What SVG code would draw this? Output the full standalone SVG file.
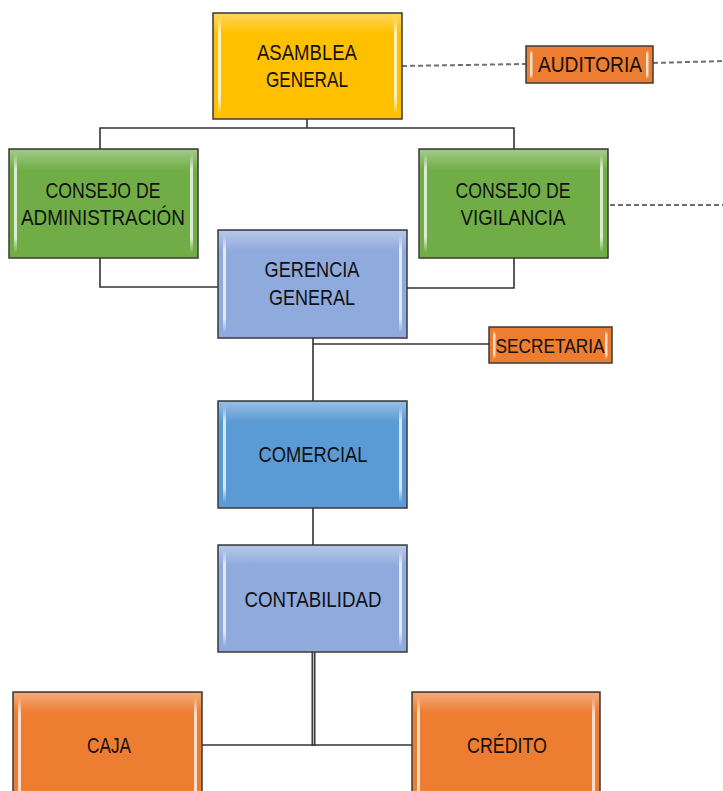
<svg xmlns="http://www.w3.org/2000/svg" width="723" height="791" viewBox="0 0 723 791">
  <defs>
    <linearGradient id="shine" x1="0" y1="0" x2="0" y2="1">
      <stop offset="0" stop-color="#ffffff" stop-opacity="0"/>
      <stop offset="0.15" stop-color="#ffffff" stop-opacity="0.75"/>
      <stop offset="0.85" stop-color="#ffffff" stop-opacity="0.75"/>
      <stop offset="1" stop-color="#ffffff" stop-opacity="0"/>
    </linearGradient>
    <linearGradient id="topshine" x1="0" y1="0" x2="0" y2="1">
      <stop offset="0" stop-color="#ffffff" stop-opacity="0.35"/>
      <stop offset="1" stop-color="#ffffff" stop-opacity="0"/>
    </linearGradient>
  </defs>
  <style>
    .box { stroke: #3a3a3a; stroke-width: 1.5; }
    .yellow { fill: #FFC000; }
    .green { fill: #70AD47; }
    .lav { fill: #8FAADC; }
    .blue { fill: #5B9BD5; }
    .orange { fill: #ED7D31; }
    .edge { fill: url(#shine); }
    .top { fill: url(#topshine); }
    .lbl { font-family: "Liberation Sans", Arial, sans-serif; font-size: 22px; fill: #111; text-anchor: middle; }
    .small { font-size: 21px; }
    .link { stroke: #333; stroke-width: 1.6; fill: none; }
    .dash { stroke: #707070; stroke-width: 2; stroke-dasharray: 5 3; fill: none; }
  </style>

  <!-- connectors -->
  <g id="connectors">
    <line class="link" x1="307" y1="119" x2="307" y2="128"/>
    <polyline class="link" points="100,149 100,128 514,128 514,149"/>
    <polyline class="link" points="100,258 100,287 218,287"/>
    <polyline class="link" points="514,258 514,288 407,288"/>
    <line class="link" x1="313" y1="338" x2="313" y2="401"/>
    <line class="link" x1="313" y1="344" x2="489" y2="344"/>
    <line class="link" x1="313" y1="508" x2="313" y2="545" stroke="#666"/>
    <line x1="313.5" y1="652" x2="313.5" y2="746" stroke="#333" stroke-width="4"/>
    <line x1="313.5" y1="652" x2="313.5" y2="746" stroke="#bbb" stroke-width="1.2"/>
    <line class="link" x1="202" y1="745" x2="412" y2="745"/>
    <line class="dash" x1="402" y1="66" x2="526" y2="64"/>
    <line class="dash" x1="653" y1="63" x2="723" y2="61"/>
    <line class="dash" x1="610" y1="205" x2="723" y2="205"/>
  </g>

  <g id="asamblea">
    <rect class="box yellow" x="213" y="13" width="189" height="106"/>
    <rect class="top" x="214" y="14" width="187" height="20"/>
    <rect class="edge" x="218" y="18" width="3" height="96"/>
    <rect class="edge" x="394" y="18" width="3" height="96"/>
    <text class="lbl" x="307" y="60" textLength="100" lengthAdjust="spacingAndGlyphs">ASAMBLEA</text>
    <text class="lbl" x="307" y="87" textLength="82" lengthAdjust="spacingAndGlyphs">GENERAL</text>
  </g>

  <g id="auditoria">
    <rect class="box orange" x="526" y="46" width="127" height="37"/>
    <rect class="edge" x="530" y="50" width="2.5" height="29"/>
    <rect class="edge" x="646" y="50" width="2.5" height="29"/>
    <text class="lbl" x="590" y="72" textLength="104" lengthAdjust="spacingAndGlyphs">AUDITORIA</text>
  </g>

  <g id="consejo-admin">
    <rect class="box green" x="9" y="149" width="189" height="109"/>
    <rect class="top" x="10" y="150" width="187" height="20"/>
    <rect class="edge" x="14" y="154" width="3" height="99"/>
    <rect class="edge" x="190" y="154" width="3" height="99"/>
    <text class="lbl" x="103" y="198" textLength="115" lengthAdjust="spacingAndGlyphs">CONSEJO DE</text>
    <text class="lbl" x="103" y="225" textLength="164" lengthAdjust="spacingAndGlyphs">ADMINISTRACIÓN</text>
  </g>

  <g id="consejo-vigilancia">
    <rect class="box green" x="419" y="149" width="189" height="109"/>
    <rect class="top" x="420" y="150" width="187" height="20"/>
    <rect class="edge" x="424" y="154" width="3" height="99"/>
    <rect class="edge" x="600" y="154" width="3" height="99"/>
    <text class="lbl" x="513" y="198" textLength="115" lengthAdjust="spacingAndGlyphs">CONSEJO DE</text>
    <text class="lbl" x="513" y="225" textLength="105" lengthAdjust="spacingAndGlyphs">VIGILANCIA</text>
  </g>

  <g id="gerencia">
    <rect class="box lav" x="218" y="230" width="189" height="108"/>
    <rect class="top" x="219" y="231" width="187" height="20"/>
    <rect class="edge" x="223" y="235" width="3" height="98"/>
    <rect class="edge" x="399" y="235" width="3" height="98"/>
    <text class="lbl" x="312" y="277" textLength="95" lengthAdjust="spacingAndGlyphs">GERENCIA</text>
    <text class="lbl" x="312" y="305" textLength="86" lengthAdjust="spacingAndGlyphs">GENERAL</text>
  </g>

  <g id="secretaria">
    <rect class="box orange" x="489" y="327" width="123" height="36"/>
    <rect class="edge" x="493" y="331" width="2.5" height="28"/>
    <rect class="edge" x="605" y="331" width="2.5" height="28"/>
    <text class="lbl small" x="550" y="353" textLength="109" lengthAdjust="spacingAndGlyphs">SECRETARIA</text>
  </g>

  <g id="comercial">
    <rect class="box blue" x="218" y="401" width="189" height="107"/>
    <rect class="top" x="219" y="402" width="187" height="20"/>
    <rect class="edge" x="223" y="406" width="3" height="97"/>
    <rect class="edge" x="399" y="406" width="3" height="97"/>
    <text class="lbl" x="313" y="462" textLength="109" lengthAdjust="spacingAndGlyphs">COMERCIAL</text>
  </g>

  <g id="contabilidad">
    <rect class="box lav" x="218" y="545" width="189" height="107"/>
    <rect class="top" x="219" y="546" width="187" height="20"/>
    <rect class="edge" x="223" y="550" width="3" height="97"/>
    <rect class="edge" x="399" y="550" width="3" height="97"/>
    <text class="lbl" x="313" y="607" textLength="137" lengthAdjust="spacingAndGlyphs">CONTABILIDAD</text>
  </g>

  <g id="caja">
    <rect class="box orange" x="13" y="692" width="189" height="110"/>
    <rect class="top" x="14" y="693" width="187" height="20"/>
    <rect class="edge" x="18" y="697" width="3" height="110"/>
    <rect class="edge" x="194" y="697" width="3" height="110"/>
    <text class="lbl" x="109" y="753" textLength="44" lengthAdjust="spacingAndGlyphs">CAJA</text>
  </g>

  <g id="credito">
    <rect class="box orange" x="412" y="692" width="188" height="110"/>
    <rect class="top" x="413" y="693" width="186" height="20"/>
    <rect class="edge" x="417" y="697" width="3" height="110"/>
    <rect class="edge" x="592" y="697" width="3" height="110"/>
    <text class="lbl" x="507" y="753" textLength="80" lengthAdjust="spacingAndGlyphs">CRÉDITO</text>
  </g>
</svg>
